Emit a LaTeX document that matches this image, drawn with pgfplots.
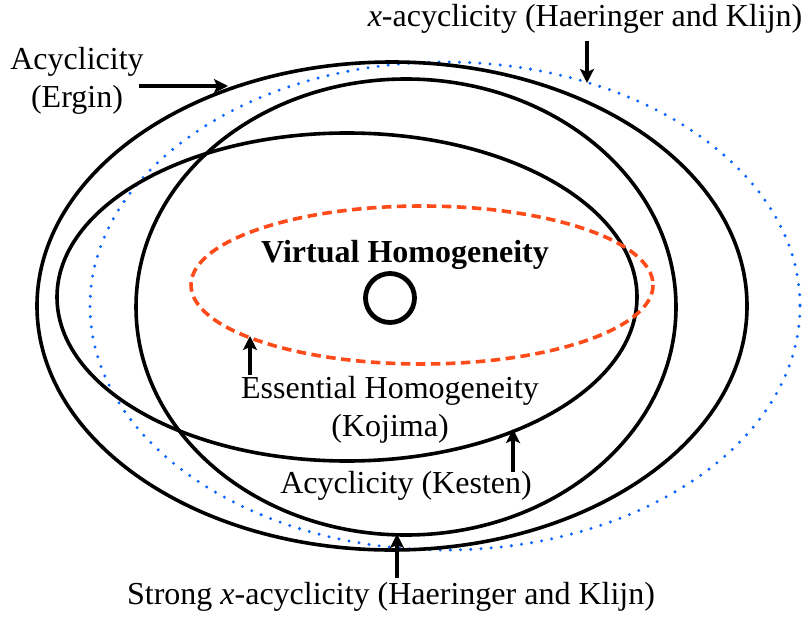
\documentclass[border=0pt]{standalone}
\usepackage{pgfplots}
\pgfplotsset{compat=1.18}
\usepackage{fontspec}
\setmainfont{Liberation Serif}
\usetikzlibrary{arrows.meta}
\definecolor{redd}{RGB}{255,75,25}
\definecolor{bluee}{RGB}{10,100,255}
\newcommand\fs{\fontsize{32bp}{38bp}\selectfont}
\begin{document}
\begin{tikzpicture}
\begin{axis}[width=806bp, height=617bp, scale only axis, hide axis,
  xmin=0, xmax=806, ymin=0, ymax=617, y dir=reverse, clip=false]
\path (axis cs:0,0) rectangle (axis cs:806,617);
% ellipses: centre x, centre y, x radius, y radius (pixel units)
\draw[bluee, line width=3.3bp, line cap=round, dash pattern=on 0bp off 10.2bp] (axis cs:445,306) ellipse [x radius=355, y radius=244];
\draw[line width=3.6bp] (axis cs:392,306) ellipse [x radius=355, y radius=244];
\draw[line width=3.6bp] (axis cs:406,307) ellipse [x radius=270, y radius=228];
\draw[line width=3.6bp] (axis cs:347,297) ellipse [x radius=290, y radius=164];
\draw[redd, line width=3.6bp, dash pattern=on 9.5bp off 5.5bp] (axis cs:422,285) ellipse [x radius=231, y radius=79];
\draw[line width=4.8bp] (axis cs:390,298) circle [radius=24.5];
% arrows
\begin{scope}[line width=3.6bp, -{Stealth[length=14bp,width=14bp,inset=3bp]}]
\draw (axis cs:587,41) -- (axis cs:587,83);
\draw (axis cs:139,86) -- (axis cs:228,86);
\draw (axis cs:250,375) -- (axis cs:250,336);
\draw (axis cs:513,472) -- (axis cs:513,429);
\draw (axis cs:397,578) -- (axis cs:397,534);
\end{scope}
% labels
\begin{scope}[every node/.style={inner sep=0pt, anchor=base, font=\fs}]
\node at (axis cs:585,27) {\textit{x}-acyclicity (Haeringer and Klijn)};
\node at (axis cs:77,70) {Acyclicity};
\node at (axis cs:77,107) {(Ergin)};
\node at (axis cs:405,262) {\textbf{Virtual Homogeneity}};
\node at (axis cs:390,398) {Essential Homogeneity};
\node at (axis cs:390,436) {(Kojima)};
\node at (axis cs:406,493) {Acyclicity (Kesten)};
\node at (axis cs:391,604) {Strong \textit{x}-acyclicity (Haeringer and Klijn)};
\end{scope}
\end{axis}
\end{tikzpicture}
\end{document}
